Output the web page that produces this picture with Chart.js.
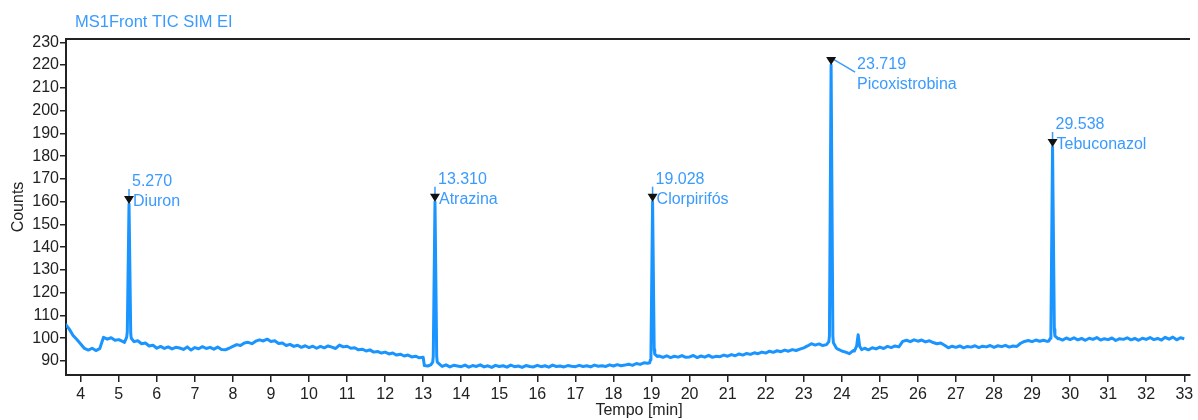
<!DOCTYPE html>
<html>
<head>
<meta charset="utf-8">
<title>MS1Front TIC SIM EI</title>
<script src="https://cdn.jsdelivr.net/npm/chart.js@4.4.0/dist/chart.umd.min.js"></script>
<style>
    html, body { margin: 0; padding: 0; background: #fff; }
    #wrap { width: 1198px; height: 420px; }
</style>
</head>
<body>
<div id="wrap"><canvas id="ticChart" width="1198" height="420"></canvas></div>
<script>

// axis ticks
const timeTicks = [4, 5, 6, 7, 8, 9, 10, 11, 12, 13, 14, 15, 16, 17, 18, 19, 20,
    21, 22, 23, 24, 25, 26, 27, 28, 29, 30, 31, 32, 33];
const countTicks = [90, 100, 110, 120, 130, 140, 150, 160, 170, 180, 190, 200, 210, 220, 230];

// identified compounds
const compounds = ['Diuron', 'Atrazina', 'Clorpirifós', 'Picoxistrobina', 'Tebuconazol'];
const retentionTimes = [5.270, 13.310, 19.028, 23.719, 29.538];
const apexCounts = [159, 160, 160, 220, 184];

// peak flanks (min, counts), apex is added from the arrays above
const peakFlanks = [
    [[5.15, 98.2], [5.21, 100.5], [5.225, 103], [5.315, 102], [5.33, 100], [5.40, 98.5]],
    [[13.03, 88.0], [13.12, 87.8], [13.20, 88.3], [13.25, 89.5], [13.265, 92], [13.355, 92], [13.37, 89.5], [13.45, 88.3]],
    [[18.95, 89.2], [18.97, 90.5], [18.985, 93], [19.07, 95], [19.085, 93], [19.15, 92.0]],
    [[23.60, 97.2], [23.66, 98.5], [23.675, 101], [23.765, 101], [23.78, 98], [23.86, 95.6]],
    [[29.44, 98.8], [29.48, 100], [29.495, 103], [29.585, 104], [29.60, 101], [29.68, 99.8]]
];
const minorPeak = [[24.33, 94.4], [24.39, 96.5], [24.43, 101.5], [24.47, 96.5], [24.52, 95]];

// baseline signal, one reading every 0.1 min from 3.6 min
const baselineStart = 3.6;
const baselineStep = 0.1;
const baselineCounts = [
    106.2, 104, 101.2, 99.4,
    97.5, 95.5, 94.8, 95.6, 94.6, 95.4, 100.4, 99.6, 100.2, 99.1,
    99.4, 98.6, 98.2, 98.4, 98.5, 98.9, 97.6, 97.9, 96.6, 96.9,
    95.6, 96.4, 95.5, 96.2, 95.3, 96.0, 95.7, 95.1, 96.2, 94.8,
    95.9, 95.4, 96.3, 95.5, 96.0, 95.2, 96.1, 95.0, 94.9, 95.6,
    96.4, 97.2, 96.8, 97.9, 98.2, 97.6, 98.7, 99.3, 98.8, 99.6,
    98.6, 98.9, 97.7, 97.9, 96.8, 97.3, 96.4, 96.9, 96.0, 96.7,
    95.9, 96.5, 95.6, 96.4, 95.8, 96.6, 96.1, 95.5, 97.0, 96.2,
    96.5, 95.6, 95.8, 94.9, 95.2, 94.4, 94.9, 93.9, 94.2, 93.5,
    93.9, 93.1, 93.5, 92.6, 93.0, 92.2, 92.6, 91.8, 92.1, 91.4,
    91.6, 88.1, 87.9, 88.3, 88.0, 87.6, 88.3, 87.4, 88.1, 87.8,
    87.5, 88.2, 87.3, 88.0, 87.6, 88.3, 87.4, 87.9, 87.2, 88.1,
    87.6, 87.9, 87.3, 88.2, 87.5, 87.8, 87.2, 88.0, 87.6, 87.4,
    88.1, 87.5, 87.9, 87.3, 88.2, 87.6, 87.8, 87.4, 88.0, 87.7,
    87.5, 88.1, 87.6, 87.9, 87.4, 88.2, 87.7, 87.9, 87.6, 88.3,
    87.8, 88.4, 87.9, 88.2, 88.6, 88.1, 88.9, 88.5, 89.2, 89.0,
    91.0, 92.0, 92.2, 91.6, 92.3, 91.5, 92.1, 91.7, 92.4, 91.6,
    91.8, 92.4, 91.5, 92.2, 91.7, 92.5, 91.6, 92.1, 91.9, 92.6,
    92.1, 92.8, 92.3, 93.1, 92.6, 93.3, 92.9, 93.6, 93.2, 93.9,
    93.5, 94.3, 93.8, 94.5, 94.1, 94.8, 94.3, 95.0, 94.6, 95.2,
    95.8, 96.6, 97.6, 97.0, 97.5, 96.8, 97.2, 97.0, 95.9, 95.2,
    94.4, 93.9, 93.2, 94.6, 95.0, 95.3, 95.6, 94.9, 95.8, 95.3,
    96.1, 95.5, 96.4, 95.9, 96.6, 96.2, 98.6, 99.1, 98.5, 99.3,
    98.7, 99.2, 98.4, 98.9, 98.1, 97.6, 97.9, 96.9, 95.8, 96.5,
    96.0, 96.6, 95.8, 96.4, 96.1, 96.7, 95.9, 96.5, 96.2, 96.8,
    96.0, 96.7, 96.3, 96.9, 96.1, 96.6, 96.4, 97.8, 98.6, 99.0,
    98.5, 99.2, 98.7, 99.1, 98.6, 99.0, 99.6, 99.9, 99.2, 100.1,
    99.4, 100.2, 99.3, 99.9, 99.1, 100.0, 99.5, 100.3, 99.2, 99.8,
    99.4, 100.1, 99.0, 99.8, 99.5, 100.2, 99.3, 99.9, 99.1, 100.0,
    99.5, 100.3, 99.4, 99.9, 99.2, 100.4, 99.6, 100.5, 99.3, 100.2,
    99.8
];

const traceColor = '#1a94ff';
const labelColor = '#3a9bff';
const axisColor = '#222';
const fontFamily = '"Liberation Sans", Arial, Helvetica, sans-serif';

function buildTrace() {
    const peaks = peakFlanks.map((flanks, i) =>
        flanks.concat([[retentionTimes[i], apexCounts[i]]]));
    peaks.push(minorPeak);

    const windows = peaks.map(p => {
        const times = p.map(pt => pt[0]);
        return [Math.min(...times), Math.max(...times)];
    });

    const points = [];
    baselineCounts.forEach((v, i) => {
        const t = Math.round((baselineStart + i * baselineStep) * 100) / 100;
        const inPeak = windows.some(w => t >= w[0] && t <= w[1]);
        if (!inPeak) points.push({ x: t, y: v });
    });
    peaks.forEach(p => p.forEach(pt => points.push({ x: pt[0], y: pt[1] })));

    points.sort((a, b) => a.x - b.x);
    return points;
}

// markers, labels, frame and titles
const peakAnnotations = {
    id: 'peakAnnotations',
    afterDatasetsDraw(chart) {
        const { ctx, chartArea } = chart;
        const xs = chart.scales.x;
        const ys = chart.scales.y;
        ctx.save();

        ctx.strokeStyle = axisColor;
        ctx.lineWidth = 2;
        ctx.beginPath();
        ctx.moveTo(chartArea.left, chartArea.top);
        ctx.lineTo(chartArea.right, chartArea.top);
        ctx.stroke();

        ctx.font = '16px ' + fontFamily;
        ctx.textBaseline = 'middle';
        ctx.textAlign = 'left';

        retentionTimes.forEach((rt, i) => {
            const px = xs.getPixelForValue(rt);
            const py = ys.getPixelForValue(apexCounts[i]);
            const crowded = py - 30 < chartArea.top;

            ctx.strokeStyle = labelColor;
            ctx.lineWidth = 1.5;
            ctx.beginPath();
            if (crowded) {
                ctx.moveTo(px + 2, py - 6);
                ctx.lineTo(px + 24, py + 7);
            } else {
                ctx.moveTo(px, py - 15);
                ctx.lineTo(px, py);
            }
            ctx.stroke();

            ctx.fillStyle = '#111';
            ctx.beginPath();
            ctx.moveTo(px - 5, py - 8);
            ctx.lineTo(px + 5, py - 8);
            ctx.lineTo(px, py);
            ctx.closePath();
            ctx.fill();

            ctx.fillStyle = labelColor;
            if (crowded) {
                ctx.fillText(rt.toFixed(3), px + 26, py);
                ctx.fillText(compounds[i], px + 26, py + 20);
            } else {
                ctx.fillText(rt.toFixed(3), px + 3, py - 22);
                ctx.fillText(compounds[i], px + 4, py - 2);
            }
        });

        ctx.restore();
    },
    afterDraw(chart) {
        const { ctx, chartArea } = chart;
        ctx.save();
        ctx.textBaseline = 'middle';

        ctx.fillStyle = labelColor;
        ctx.font = '16.5px ' + fontFamily;
        ctx.textAlign = 'left';
        ctx.fillText('MS1Front TIC SIM EI', chartArea.left + 9, 22.5);

        ctx.fillStyle = axisColor;
        ctx.font = '16px ' + fontFamily;
        ctx.textAlign = 'center';
        ctx.fillText('Tempo [min]', (chartArea.left + chartArea.right) / 2 + 11, 411);

        ctx.translate(18.5, (chartArea.top + chartArea.bottom) / 2);
        ctx.rotate(-Math.PI / 2);
        ctx.fillText('Counts', 0, 0);
        ctx.restore();
    }
};

function createChart() {
    const ctx = document.getElementById('ticChart').getContext('2d');
    Chart.defaults.font.family = fontFamily;

    new Chart(ctx, {
        type: 'line',
        data: {
            datasets: [{
                label: 'TIC',
                data: buildTrace(),
                borderColor: traceColor,
                borderWidth: 3,
                borderJoinStyle: 'round',
                pointRadius: 0,
                tension: 0,
                fill: false
            }]
        },
        options: {
            responsive: false,
            animation: false,
            layout: { padding: { top: 39, right: 8, left: 0, bottom: 0 } },
            plugins: {
                legend: { display: false },
                tooltip: { enabled: false }
            },
            scales: {
                x: {
                    type: 'linear',
                    min: 3.614,
                    max: 33.15,
                    afterBuildTicks: scale => {
                        scale.ticks = timeTicks.map(v => ({ value: v }));
                    },
                    afterFit: scale => { scale.height = 45; },
                    ticks: {
                        autoSkip: false,
                        maxRotation: 0,
                        padding: 3,
                        color: axisColor,
                        font: { size: 16 },
                        callback: v => v
                    },
                    grid: {
                        drawOnChartArea: false,
                        drawTicks: true,
                        tickLength: 7,
                        color: axisColor,
                        lineWidth: 1.5
                    },
                    border: { display: true, color: axisColor, width: 2 }
                },
                y: {
                    min: 83.85,
                    max: 231.45,
                    afterBuildTicks: scale => {
                        scale.ticks = countTicks.map(v => ({ value: v }));
                    },
                    afterFit: scale => { scale.width = 66; },
                    ticks: {
                        padding: 1,
                        color: axisColor,
                        font: { size: 16 },
                        callback: v => v
                    },
                    grid: {
                        drawOnChartArea: false,
                        drawTicks: true,
                        tickLength: 6,
                        color: axisColor,
                        lineWidth: 1.5
                    },
                    border: { display: true, color: axisColor, width: 2 }
                }
            }
        },
        plugins: [peakAnnotations]
    });
}

document.addEventListener('DOMContentLoaded', createChart);
</script>
</body>
</html>
